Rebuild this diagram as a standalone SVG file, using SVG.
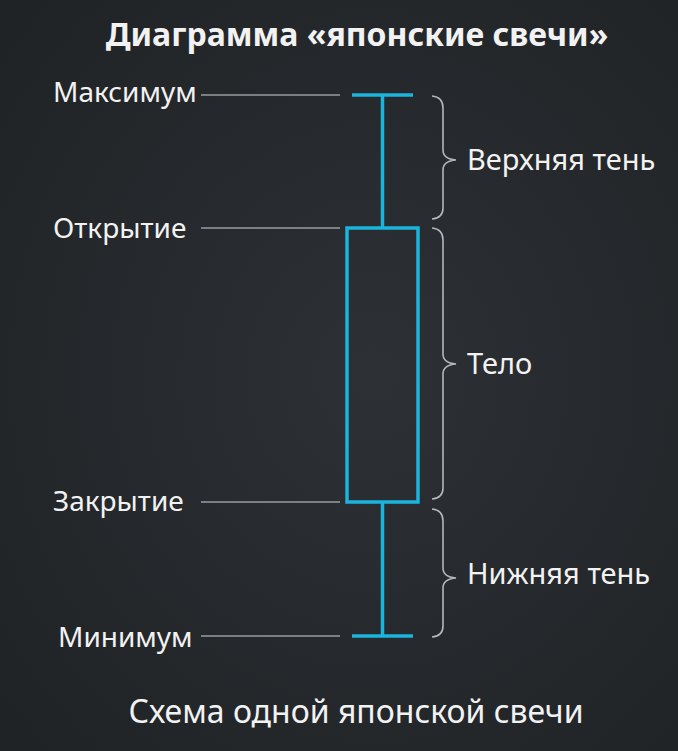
<svg xmlns="http://www.w3.org/2000/svg" width="678" height="751" viewBox="0 0 678 751">
<defs>
<radialGradient id="bg" cx="0.55" cy="0.5" r="0.7">
<stop offset="0" stop-color="#2d3034"/>
<stop offset="1" stop-color="#202326"/>
</radialGradient>
</defs>
<style>
.t{font-family:"Noto Sans","DejaVu Sans",sans-serif;fill:#f2f2f2;font-size:28px}
.r{font-size:29px}
.title{font-weight:bold;font-size:32px}
.cap{font-size:32px}
.lead{stroke:#9a9c9e;stroke-width:1.5;fill:none}
.candle{stroke:#1ab4dc;stroke-width:3.5;fill:none}
.brace{stroke:#b4b6b8;stroke-width:1.6;fill:none}
</style>
<rect width="678" height="751" fill="url(#bg)"/>
<text class="t title" x="357" y="46" text-anchor="middle">Диаграмма «японские свечи»</text>
<g id="max"><text class="t" x="53" y="102">Максимум</text></g>
<g id="open"><text class="t" x="53" y="238">Открытие</text></g>
<g id="close"><text class="t" x="53" y="511">Закрытие</text></g>
<g id="min"><text class="t" x="58" y="647">Минимум</text></g>
<g id="candle">
<line class="candle" x1="352" y1="95" x2="413" y2="95"/>
<line class="candle" x1="382.5" y1="95" x2="382.5" y2="228"/>
<rect class="candle" x="347" y="228" width="71" height="274"/>
<line class="candle" x1="382.5" y1="502" x2="382.5" y2="636"/>
<line class="candle" x1="352" y1="636" x2="413" y2="636"/>
</g>
<g id="connectors">
<line class="lead" x1="201" y1="95" x2="340" y2="95"/>
<line class="lead" x1="201" y1="228" x2="340" y2="228"/>
<line class="lead" x1="201" y1="502" x2="340" y2="502"/>
<line class="lead" x1="201" y1="636" x2="340" y2="636"/>
</g>
<g id="upper-shadow">
<path class="brace" d="M432 96 Q443 97 443 108 L443 150 Q443 159 456 160 Q443 161 443 170 L443 208 Q443 218 432 219"/>
<text class="t r" x="467" y="170">Верхняя тень</text>
</g>
<g id="body">
<path class="brace" d="M432 228 Q443 229 443 240 L443 354 Q443 363 456 364 Q443 365 443 374 L443 488 Q443 498 432 499"/>
<text class="t r" x="467" y="374">Тело</text>
</g>
<g id="lower-shadow">
<path class="brace" d="M432 509 Q443 510 443 521 L443 568 Q443 577 456 578 Q443 579 443 588 L443 626 Q443 636 432 637"/>
<text class="t r" x="467" y="584">Нижняя тень</text>
</g>
<text class="t cap" x="356" y="723" text-anchor="middle">Схема одной японской свечи</text>
</svg>
